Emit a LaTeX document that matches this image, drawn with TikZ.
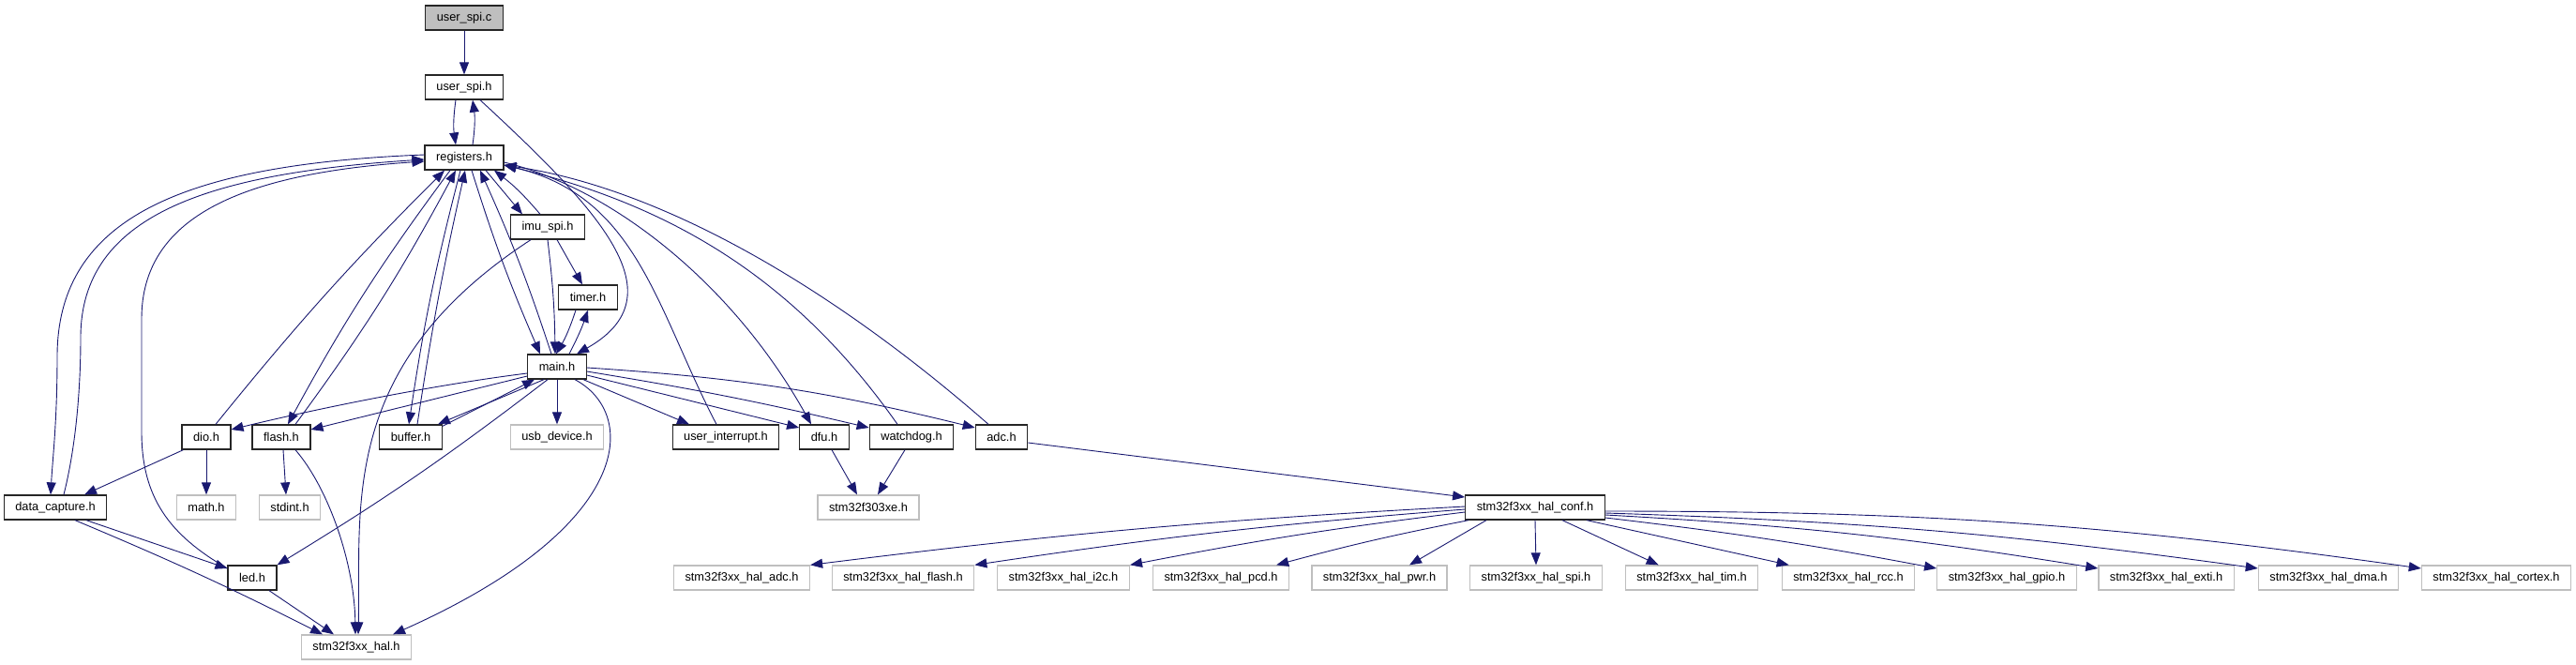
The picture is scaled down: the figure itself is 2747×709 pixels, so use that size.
\documentclass[tikz,border=0pt]{standalone}
\usepackage{fontspec}
\setmainfont{Liberation Sans}
\usepackage{tikz}
\usetikzlibrary{arrows.meta}
\definecolor{edgeblue}{HTML}{191970}

\begin{document}
\begin{tikzpicture}[
    x=1pt, y=1pt,
    file/.style={
        rectangle, draw=#1, fill=white, line width=1.3pt,
        minimum height=26pt, inner xsep=12pt, inner ysep=0pt,
        font=\fontsize{12.8}{14}\selectfont
    },
    file/.default=black!85,
    ext/.style={file=black!25},
    arr/.style={-{Triangle[length=13pt,width=10pt]}, line width=0.9pt, draw=edgeblue}
]
    \useasboundingbox (0,0) rectangle (2747,-709);

    %% --- Top chain ---
    \node[file, fill=black!25] (usc) at (495,-19) {user\_spi.c};
    \node[file] (ush) at (495,-93) {user\_spi.h};
    \node[file] (reg) at (495,-168) {registers.h};
    \node[file] (imu) at (584,-242) {imu\_spi.h};
    \node[file] (tmr) at (627,-317) {timer.h};
    \node[file] (mainh) at (594,-391) {main.h};

    %% --- Row below main.h ---
    \node[file] (dio) at (220,-466) {dio.h};
    \node[file] (flash) at (300,-466) {flash.h};
    \node[file] (buf) at (438,-466) {buffer.h};
    \node[ext] (usb) at (594,-466) {usb\_device.h};
    \node[file] (uint) at (774,-466) {user\_interrupt.h};
    \node[file] (dfu) at (879,-466) {dfu.h};
    \node[file] (wdg) at (972,-466) {watchdog.h};
    \node[file] (adc) at (1068,-466) {adc.h};

    %% --- Third row ---
    \node[file] (dcap) at (59,-541) {data\_capture.h};
    \node[ext] (math) at (220,-541) {math.h};
    \node[ext] (stdint) at (309,-541) {stdint.h};
    \node[ext] (f303) at (926,-541) {stm32f303xe.h};
    \node[file] (conf) at (1637,-541) {stm32f3xx\_hal\_conf.h};

    %% --- Fourth row: led.h and HAL modules ---
    \node[file] (led) at (269,-616) {led.h};
    \node[ext] (haladc) at (791,-616) {stm32f3xx\_hal\_adc.h};
    \node[ext] (halflash) at (963,-616) {stm32f3xx\_hal\_flash.h};
    \node[ext] (hali2c) at (1134,-616) {stm32f3xx\_hal\_i2c.h};
    \node[ext] (halpcd) at (1302,-616) {stm32f3xx\_hal\_pcd.h};
    \node[ext] (halpwr) at (1471,-616) {stm32f3xx\_hal\_pwr.h};
    \node[ext] (halspi) at (1638,-616) {stm32f3xx\_hal\_spi.h};
    \node[ext] (haltim) at (1804,-616) {stm32f3xx\_hal\_tim.h};
    \node[ext] (halrcc) at (1971,-616) {stm32f3xx\_hal\_rcc.h};
    \node[ext] (halgpio) at (2140,-616) {stm32f3xx\_hal\_gpio.h};
    \node[ext] (halexti) at (2310,-616) {stm32f3xx\_hal\_exti.h};
    \node[ext] (haldma) at (2483,-616) {stm32f3xx\_hal\_dma.h};
    \node[ext] (halcortex) at (2662,-616) {stm32f3xx\_hal\_cortex.h};

    %% --- Bottom ---
    \node[ext] (hal) at (380,-690) {stm32f3xx\_hal.h};

    %% --- Arrows: top chain ---
    \draw[arr] (usc) -- (ush);
    \draw[arr] ([xshift=-9pt]ush.south) to[bend right=8] ([xshift=-9pt]reg.north);
    \draw[arr] ([xshift=9pt]reg.north) to[bend right=8] ([xshift=9pt]ush.south);
    \draw[arr] ([xshift=17pt]ush.south) .. controls (640,-225) and (725,-315) .. ([xshift=21pt]mainh.north);
    \draw[arr] ([xshift=23pt]reg.south) -- ([xshift=-27pt]imu.north);
    \draw[arr] ([xshift=-8pt]imu.north) to[bend right=6] ([xshift=32pt]reg.south);
    \draw[arr] ([xshift=10pt]imu.south) -- ([xshift=-6pt]tmr.north);
    \draw[arr] (imu.south) to[bend left=3] ([xshift=-2pt]mainh.north);
    \draw[arr] ([xshift=-13pt]tmr.south) to[bend left=6] ([xshift=-1pt]mainh.north);
    \draw[arr] ([xshift=13pt]mainh.north) to[bend right=4] (tmr.south);
    \draw[arr] ([xshift=8pt]reg.south) to[bend right=3] ([xshift=-18pt]mainh.north);
    \draw[arr] ([xshift=-6pt]mainh.north) to[bend right=3] ([xshift=17pt]reg.south);
    \draw[arr] ([xshift=-18pt]imu.south) .. controls (360,-390) and (385,-540) .. ([xshift=2pt]hal.north);

    %% --- Arrows: registers.h and the left headers ---
    \draw[arr] ([xshift=-15pt]reg.south) to[bend right=4] ([xshift=7pt]flash.north);
    \draw[arr] ([xshift=15pt]flash.north) to[bend right=4] ([xshift=-9pt]reg.south);
    \draw[arr] ([xshift=10pt]dio.north) to[bend left=3] ([xshift=-21pt]reg.south);
    \draw[arr] ([xshift=-4pt]reg.south) to[bend right=3] ([xshift=-2pt]buf.north);
    \draw[arr] ([xshift=7pt]buf.north) to[bend left=2] ([xshift=1pt]reg.south);
    \draw[arr] ([yshift=3pt]reg.west) .. controls (200,-175) and (61,-230) .. (61,-380)
        .. controls (61,-450) and (56,-490) .. ([xshift=-5pt]dcap.north);
    \draw[arr] ([xshift=9pt]dcap.north) .. controls (80,-480) and (86,-420) .. (86,-360)
        .. controls (86,-230) and (220,-185) .. ([yshift=-2pt]reg.west);
    \draw[arr] ([yshift=10pt]led.west) .. controls (180,-570) and (151,-530) .. (151,-460)
        -- (151,-340) .. controls (151,-230) and (260,-185) .. ([yshift=-4pt]reg.west);

    %% --- Arrows: registers.h and the right headers ---
    \draw[arr] ([yshift=-5pt]reg.east) .. controls (650,-200) and (780,-300) .. ([xshift=-14pt]dfu.north);
    \draw[arr] ([xshift=-10pt]uint.north) .. controls (700,-330) and (680,-210) .. ([yshift=-8pt]reg.east);
    \draw[arr] ([xshift=-15pt]wdg.north) .. controls (850,-300) and (720,-220) .. ([yshift=-8pt]reg.east);
    \draw[arr] ([xshift=-14pt]adc.north) .. controls (880,-300) and (700,-200) .. ([yshift=-8pt]reg.east);

    %% --- Arrows: main.h ---
    \draw[arr] ([yshift=-7pt]mainh.west) .. controls (450,-412) and (320,-440) .. ([yshift=8pt]dio.east);
    \draw[arr] ([yshift=-10pt]mainh.west) -- ([yshift=8pt]flash.east);
    \draw[arr] ([xshift=-14pt]mainh.south) -- ([xshift=-5pt]buf.north east);
    \draw[arr] ([yshift=-2pt]buf.north east) -- ([xshift=-24pt]mainh.south);
    \draw[arr] ([xshift=-10pt]mainh.south) to[bend left=3] (led.north east);
    \draw[arr] (mainh) -- (usb);
    \draw[arr] ([xshift=19pt]mainh.south) .. controls (680,-440) and (680,-560) .. ([xshift=39pt]hal.north);
    \draw[arr] ([xshift=28pt]mainh.south) -- ([xshift=-39pt]uint.north);
    \draw[arr] ([yshift=-9pt]mainh.east) -- ([yshift=10pt]dfu.west);
    \draw[arr] ([yshift=-5pt]mainh.east) to[bend left=2] ([yshift=10pt]wdg.west);
    \draw[arr] ([yshift=-1pt]mainh.east) to[bend left=5] ([yshift=10pt]adc.west);

    %% --- Arrows: lower headers ---
    \draw[arr] ([xshift=2pt]dio.south west) -- ([xshift=31pt]dcap.north);
    \draw[arr] (dio) -- (math);
    \draw[arr] ([xshift=2pt]flash.south) -- ([xshift=-4pt]stdint.north);
    \draw[arr] ([xshift=15pt]flash.south) .. controls (350,-520) and (378,-600) .. ([xshift=-1pt]hal.north);
    \draw[arr] ([xshift=33pt]dcap.south) -- ([yshift=10pt]led.west);
    \draw[arr] ([xshift=21pt]dcap.south) to[bend left=2] ([xshift=-36pt]hal.north);
    \draw[arr] ([xshift=18pt]led.south) -- ([xshift=-24pt]hal.north);
    \draw[arr] ([xshift=8pt]dfu.south) -- ([xshift=-12pt]f303.north);
    \draw[arr] ([xshift=-7pt]wdg.south) -- ([xshift=10pt]f303.north);
    \draw[arr] ([yshift=-6pt]adc.east) -- ([yshift=11pt]conf.west);

    %% --- Arrows: stm32f3xx_hal_conf.h ---
    \draw[arr] ([yshift=1pt]conf.west) to[bend right=2] (haladc.north east);
    \draw[arr] ([yshift=-2pt]conf.west) to[bend right=2] (halflash.north east);
    \draw[arr] ([yshift=-5pt]conf.west) to[bend right=2] (hali2c.north east);
    \draw[arr] ([xshift=4pt]conf.south west) to[bend right=2] ([xshift=-14pt]halpcd.north east);
    \draw[arr] ([xshift=-52pt]conf.south) -- ([xshift=32pt]halpwr.north);
    \draw[arr] (conf.south) -- (halspi.north);
    \draw[arr] ([xshift=29pt]conf.south) -- ([xshift=36pt]haltim.north west);
    \draw[arr] ([xshift=55pt]conf.south) -- ([xshift=8pt]halrcc.north west);
    \draw[arr] ([yshift=-11pt]conf.east) to[bend left=2] ([yshift=10pt]halgpio.west);
    \draw[arr] ([yshift=-8pt]conf.east) to[bend left=3] ([yshift=10pt]halexti.west);
    \draw[arr] ([yshift=-6pt]conf.east) to[bend left=3] ([yshift=10pt]haldma.west);
    \draw[arr] ([yshift=-4pt]conf.east) to[bend left=4] ([yshift=10pt]halcortex.west);
\end{tikzpicture}
\end{document}
